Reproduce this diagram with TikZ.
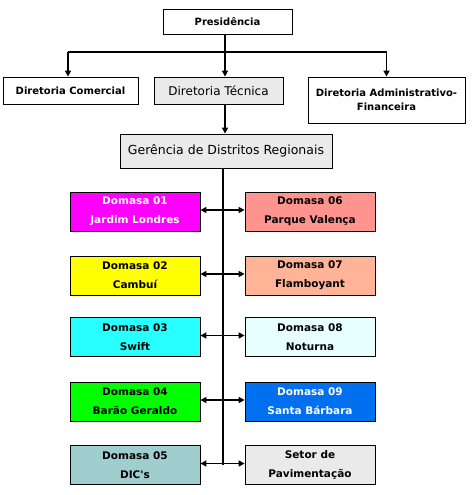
\documentclass[tikz,border=0pt]{standalone}
\usepackage{fontspec}
\setmainfont{DejaVu Sans}
\usetikzlibrary{arrows.meta,positioning,calc}
\definecolor{orgmagenta}{RGB}{255,0,255}
\definecolor{orgsalmon} {RGB}{255,148,142}
\definecolor{orgyellow} {RGB}{255,255,0}
\definecolor{orgpeach}  {RGB}{255,180,152}
\definecolor{orgcyan}   {RGB}{40,255,255}
\definecolor{orgice}    {RGB}{232,255,255}
\definecolor{orggreen}  {RGB}{0,255,0}
\definecolor{orgblue}   {RGB}{0,112,240}
\definecolor{orgteal}   {RGB}{160,206,206}
\definecolor{orggray}   {RGB}{234,234,234}

\begin{document}
\begin{tikzpicture}[
  x=1pt,y=-1pt,
  >={Triangle[length=6pt,width=6pt]},
  box/.style={draw,line width=0.8pt,align=center,inner sep=0pt,
              font=\fontsize{10}{14}\selectfont\bfseries},
  dir/.style={box,minimum height=27pt},
  dom/.style={box,minimum width=130pt,minimum height=39pt,
              font=\fontsize{10.5}{19}\selectfont\bfseries},
  arr/.style={->,line width=1.6pt},
  link/.style={<->,line width=1.6pt},
]

\useasboundingbox (0,0) rectangle (474,495);

\def\colL{135}
\def\colR{310}

%% ── Top levels ──────────────────────────────────────────────────────────
\node[box,minimum width=129pt,minimum height=25pt] (pres) at (227.5,21.5)
  {Presidência};
\node[dir,minimum width=135pt] (com) at (70.5,90.5) {Diretoria Comercial};
\node[dir,minimum width=129pt,fill=orggray,
      font=\fontsize{12}{14}\selectfont] (tec) at (218.5,90.5)
  {Diretoria Técnica};
\node[box,minimum width=157pt,minimum height=46pt] (adm) at (386.5,100)
  {Diretoria Administrativo-\\Financeira};
\node[box,minimum width=212pt,minimum height=34pt,fill=orggray,
      font=\fontsize{12.5}{14}\selectfont] (ger) at (226,151)
  {Gerência de Distritos Regionais};

%% ── Domasas (left column) ───────────────────────────────────────────────
\node[dom,fill=orgmagenta,text=white] (dom01) at (\colL,211.5)
  {Domasa 01\\Jardim Londres};
\node[dom,fill=orgyellow] (dom02) at (\colL,275.5) {Domasa 02\\Cambuí};
\node[dom,fill=orgcyan]   (dom03) at (\colL,337)   {Domasa 03\\Swift};
\node[dom,fill=orggreen]  (dom04) at (\colL,401.5) {Domasa 04\\Barão Geraldo};
\node[dom,fill=orgteal]   (dom05) at (\colL,465)
  {Domasa 05\\DIC\textquotesingle s};

%% ── Domasas (right column) ──────────────────────────────────────────────
\node[dom,fill=orgsalmon] (dom06) at (\colR,211.5) {Domasa 06\\Parque Valença};
\node[dom,fill=orgpeach]  (dom07) at (\colR,275.5) {Domasa 07\\Flamboyant};
\node[dom,fill=orgice]    (dom08) at (\colR,337)   {Domasa 08\\Noturna};
\node[dom,fill=orgblue,text=white] (dom09) at (\colR,401.5)
  {Domasa 09\\Santa Bárbara};
\node[dom,fill=orggray]   (setor) at (\colR,465)   {Setor de\\Pavimentação};

%% ── Presidência -> directorates ─────────────────────────────────────────
\coordinate (split) at (225,52);
\draw[line width=1.6pt] (pres.south -| split) -- (split);
\draw[line width=1.6pt] (split -| com.north) ++(-2.5,0) coordinate (splitL)
  -- (split -| adm.north);
\draw[arr] (splitL) -- (splitL |- com.north);
\draw[arr] (split) -- (split |- tec.north);
\draw[arr] (split -| adm.north) -- (adm.north);

%% ── Técnica -> Gerência -> Domasas ──────────────────────────────────────
\draw[arr] (split |- tec.south) -- (split |- ger.north);
\coordinate (trunk) at (223,0);
\draw[line width=1.6pt] (trunk |- ger.south) -- (trunk |- setor.center);

\foreach \a/\b in {dom01/dom06,dom02/dom07,dom03/dom08,dom04/dom09,dom05/setor}
  \draw[link] ([yshift=1.5pt]\a.east) -- ([yshift=1.5pt]\b.west);

\end{tikzpicture}
\end{document}
